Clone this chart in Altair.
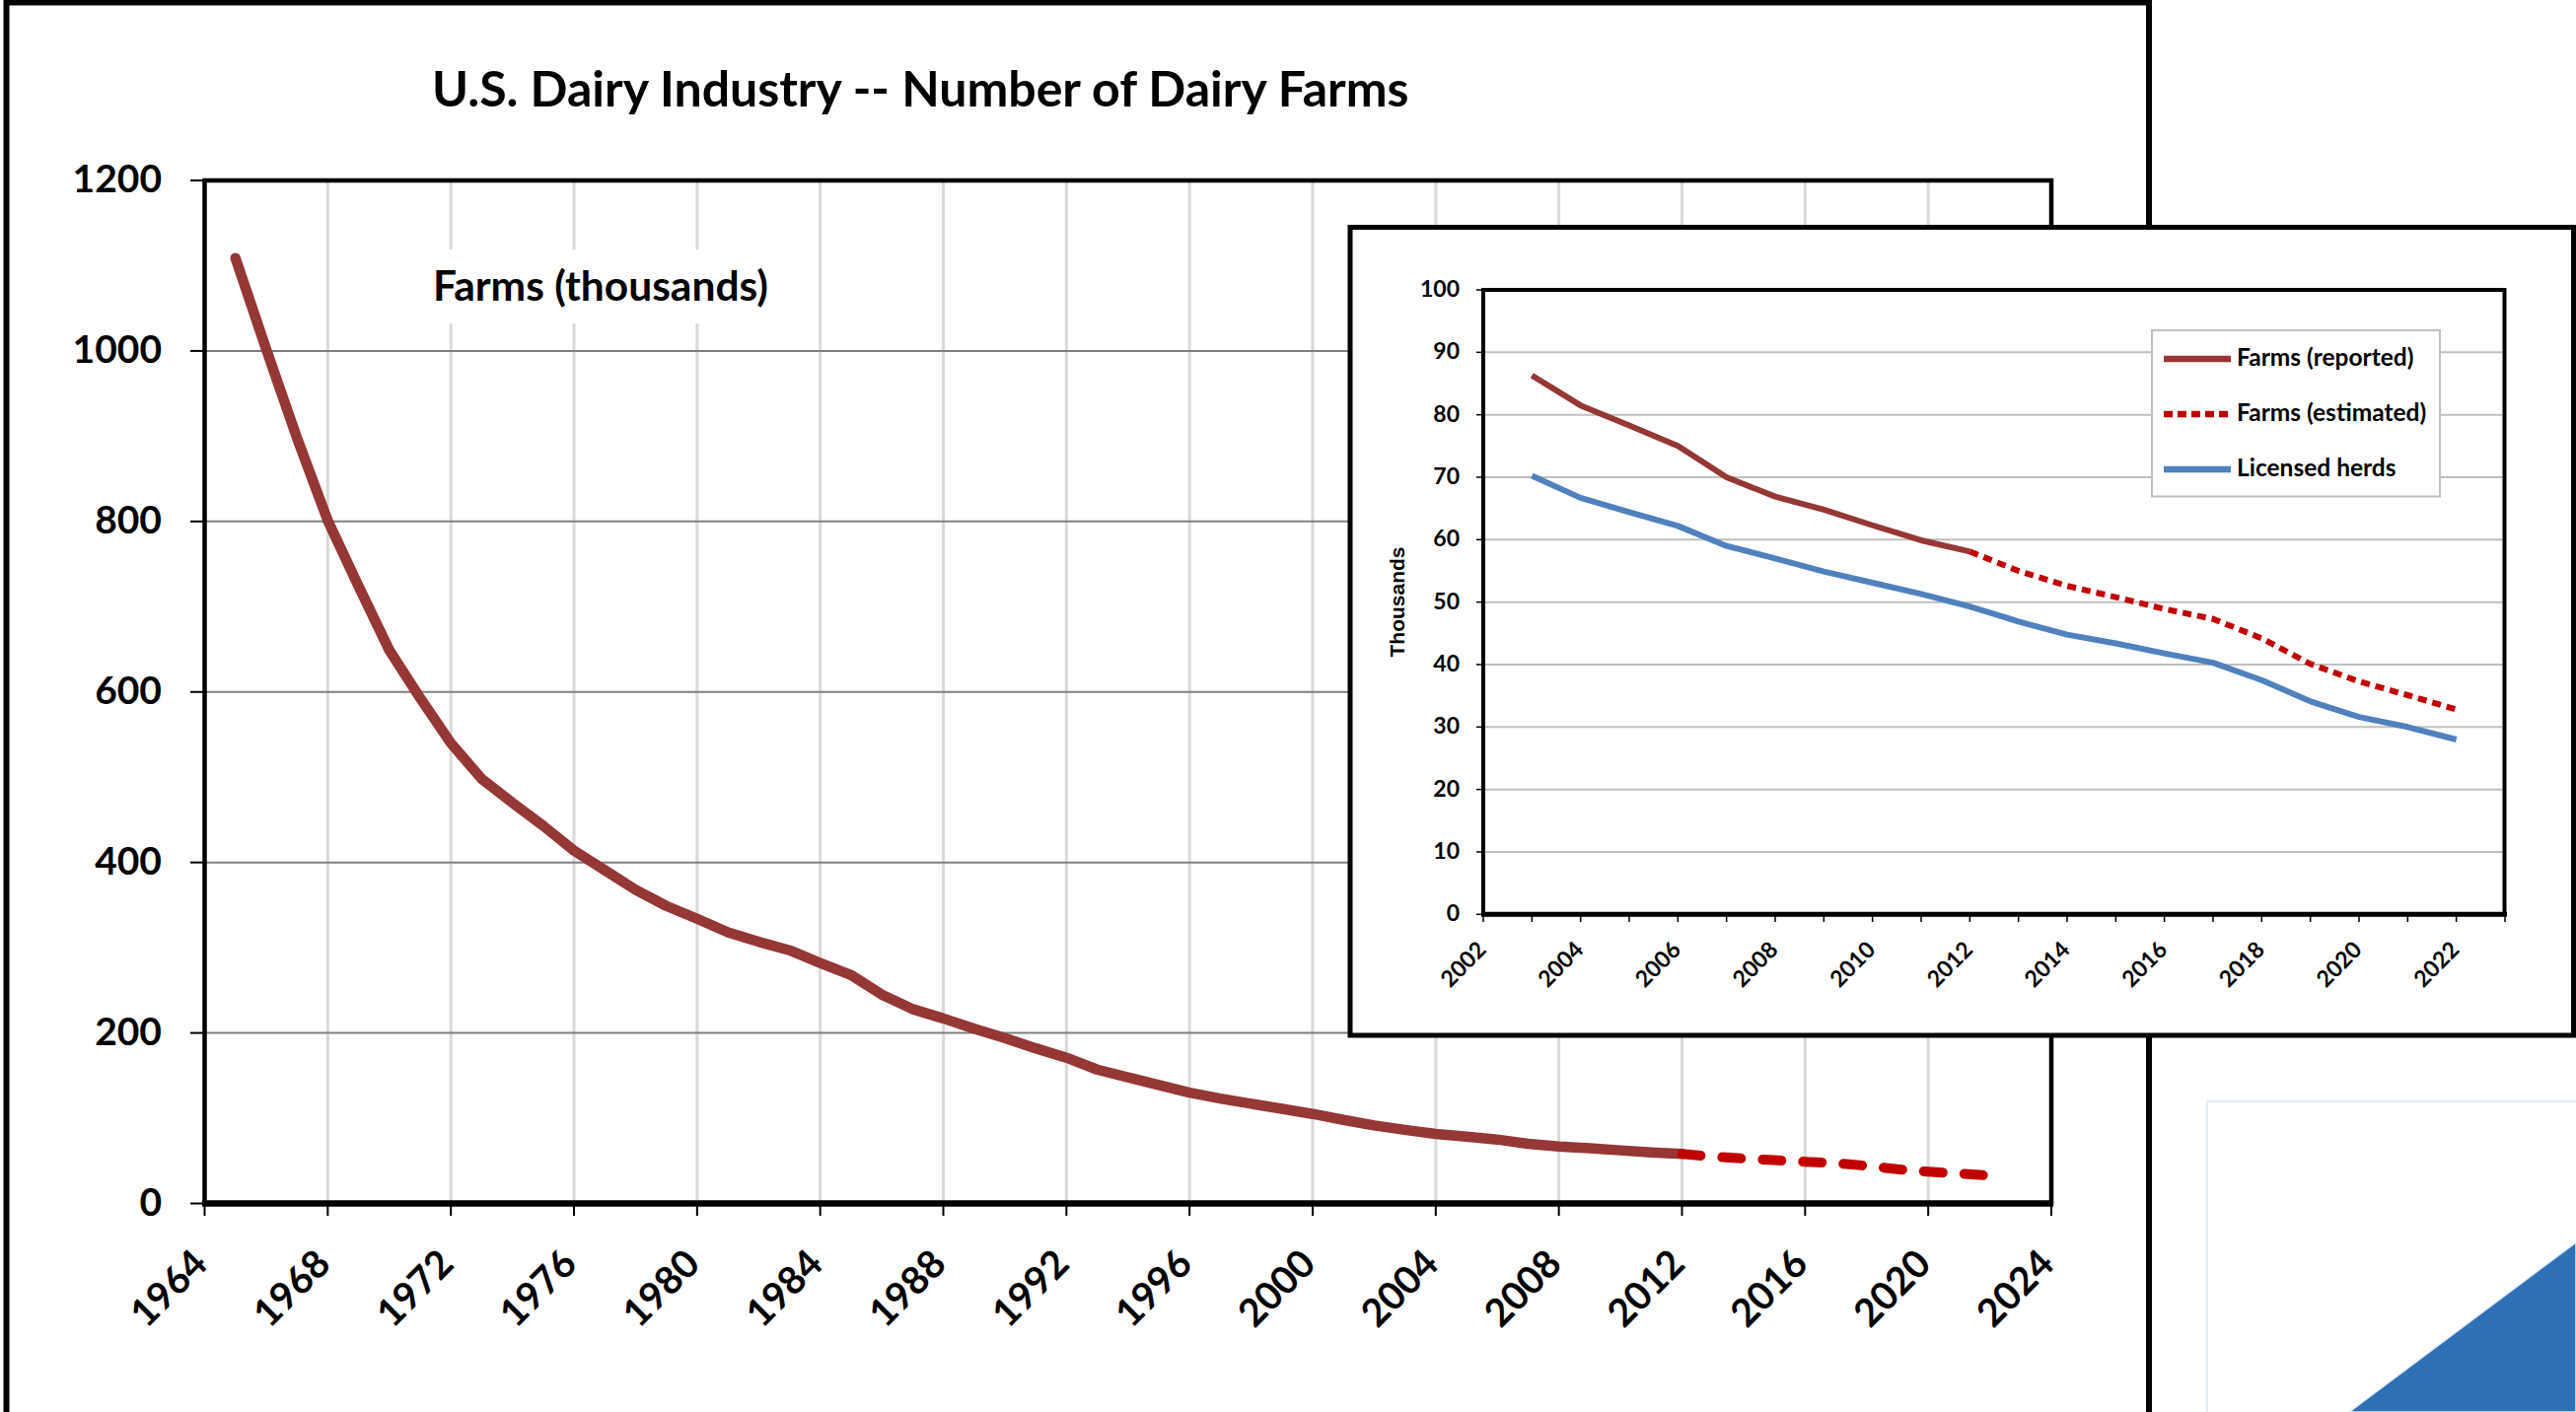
import altair as alt
import pandas as pd

# U.S. dairy farms, thousands (reported series)
farm_years = list(range(1965, 2013))
farm_counts = [1109, 1002, 898, 801, 724, 649, 593, 540, 498, 470,
               443, 414, 391, 368, 349, 334, 318, 307, 297, 282,
               268, 245, 228, 217, 205, 194, 182, 171, 157, 148,
               139, 130, 123, 117, 111, 105, 98, 91.5, 86.3, 81.5,
               78.3, 75.0, 70.0, 66.9, 64.8, 62.3, 59.9, 58.1]

# Estimated farm numbers after the last report (thousands)
est_years = list(range(2012, 2023))
est_counts = [58.1, 55.0, 52.6, 50.8, 48.9, 47.3, 44.2, 40.1, 37.3, 35.1, 32.8]

# Detail panel: reported farms and licensed herds (thousands)
rep_years = list(range(2003, 2013))
rep_counts = [86.3, 81.5, 78.3, 75.0, 70.0, 66.9, 64.8, 62.3, 59.9, 58.1]
herd_years = list(range(2003, 2023))
herd_counts = [70.25, 66.7, 64.4, 62.2, 59.0, 57.0, 54.9, 53.1, 51.3, 49.3,
               46.9, 44.8, 43.4, 41.8, 40.3, 37.5, 34.1, 31.6, 30.0, 28.0]

# Axis ticks and labels
main_y_ticks = [0, 200, 400, 600, 800, 1000, 1200]
main_x_ticks = list(range(1964, 2025, 4))
inset_y_ticks = list(range(0, 101, 10))
inset_x_ticks = list(range(2002, 2023, 2))
inset_year_ticks = list(range(2002, 2024))
legend_labels = ["Farms (reported)", "Farms (estimated)", "Licensed herds"]

TITLE = "U.S. Dairy Industry -- Number of Dairy Farms"
SUBTITLE = "Farms (thousands)"
INSET_YTITLE = "Thousands"

FONT = "Lato"
REPORTED = "#953735"
ESTIMATED = "#C00000"
HERDS = "#4F81BD"

# Pixel layout of the two plotting panels
MX = alt.Scale(domain=[1964, 2024], range=[207.5, 2080], nice=False, zero=False)
MY = alt.Scale(domain=[0, 1200], range=[1220.5, 183], nice=False, zero=False)
IX = alt.Scale(domain=[2002, 2023], range=[1504, 2540], nice=False, zero=False)
IY = alt.Scale(domain=[0, 100], range=[927.3, 294], nice=False, zero=False)

one = pd.DataFrame({"k": [0]})


def qx(field, scale):
    return alt.X(field, type="quantitative", scale=scale, axis=None)


def qy(field, scale):
    return alt.Y(field, type="quantitative", scale=scale, axis=None)


def box(x1, y1, x2, y2, **kw):
    return alt.Chart(one).mark_rect(**kw).encode(
        x=alt.value(x1), x2=alt.value(x2), y=alt.value(y1), y2=alt.value(y2))


def hrule(y, x1, x2, **kw):
    return alt.Chart(one).mark_rule(**kw).encode(
        x=alt.value(x1), x2=alt.value(x2), y=alt.value(y))


def label(text, x, y, **kw):
    return alt.Chart(one).mark_text(text=text, font=FONT, fontWeight="bold", **kw).encode(
        x=alt.value(x), y=alt.value(y))


layers = []

# ---------------- main chart ----------------
layers.append(box(6.5, 2.5, 2179, 1445, fillOpacity=0, stroke="black", strokeWidth=6))

vgrid_df = pd.DataFrame({"yr": main_x_ticks[1:-1]})
layers.append(alt.Chart(vgrid_df).mark_rule(color="#D9D9D9", strokeWidth=3).encode(
    x=qx("yr", MX), y=alt.value(183), y2=alt.value(1220)))

hgrid_df = pd.DataFrame({"v": main_y_ticks[1:-1]})
layers.append(alt.Chart(hgrid_df).mark_rule(color="#7F7F7F", strokeWidth=2).encode(
    y=qy("v", MY), x=alt.value(207), x2=alt.value(2080)))

layers.append(box(420, 253, 805, 328, fill="white", strokeWidth=0))
layers.append(label(SUBTITLE, 439, 305, fontSize=42.5, align="left", baseline="alphabetic"))

main_df = pd.DataFrame({"yr": farm_years, "n": farm_counts})
layers.append(alt.Chart(main_df).mark_line(
    color=REPORTED, strokeWidth=10.5, strokeJoin="round", strokeCap="round").encode(
    x=qx("yr", MX), y=qy("n", MY)))

est_df = pd.DataFrame({"yr": est_years, "n": est_counts})
layers.append(alt.Chart(est_df).mark_line(
    color=ESTIMATED, strokeWidth=10, strokeCap="round", strokeDash=[19, 22]).encode(
    x=qx("yr", MX), y=qy("n", MY)))

# plot frame and axes
layers.append(box(207.5, 183, 2080, 1220.5, fillOpacity=0, stroke="black", strokeWidth=4.5))
layers.append(hrule(1220.5, 205, 2082, color="black", strokeWidth=6.5))

ytick_df = pd.DataFrame({"v": main_y_ticks, "lab": [str(t) for t in main_y_ticks]})
layers.append(alt.Chart(ytick_df).mark_rule(color="black", strokeWidth=2).encode(
    y=qy("v", MY), x=alt.value(193), x2=alt.value(207)))
layers.append(alt.Chart(ytick_df).mark_text(
    font=FONT, fontWeight="bold", fontSize=39, align="right", baseline="middle").encode(
    y=qy("v", MY), x=alt.value(164), text="lab:N"))

xtick_df = pd.DataFrame({"yr": main_x_ticks, "lab": [str(t) for t in main_x_ticks]})
layers.append(alt.Chart(xtick_df).mark_rule(color="black", strokeWidth=2).encode(
    x=qx("yr", MX), y=alt.value(1220), y2=alt.value(1233)))
layers.append(alt.Chart(xtick_df).mark_text(
    font=FONT, fontWeight="bold", fontSize=39, align="right", baseline="middle",
    angle=315, dx=-5).encode(
    x=qx("yr", MX), y=alt.value(1272), text="lab:N"))

layers.append(label(TITLE, 438, 108, fontSize=50, align="left", baseline="alphabetic"))

# ---------------- detail panel ----------------
layers.append(box(1369, 230.5, 2609.5, 1050, fill="white", stroke="black", strokeWidth=5))

igrid_df = pd.DataFrame({"v": inset_y_ticks[1:-1]})
layers.append(alt.Chart(igrid_df).mark_rule(color="#BFBFBF", strokeWidth=2).encode(
    y=qy("v", IY), x=alt.value(1504), x2=alt.value(2540)))

rep_df = pd.DataFrame({"yr": rep_years, "n": rep_counts})
layers.append(alt.Chart(rep_df).mark_line(
    color=REPORTED, strokeWidth=6, strokeJoin="round").encode(
    x=qx("yr", IX), y=qy("n", IY)))
layers.append(alt.Chart(est_df).mark_line(
    color=ESTIMATED, strokeWidth=6, strokeDash=[9, 6]).encode(
    x=qx("yr", IX), y=qy("n", IY)))
herd_df = pd.DataFrame({"yr": herd_years, "n": herd_counts})
layers.append(alt.Chart(herd_df).mark_line(
    color=HERDS, strokeWidth=6, strokeJoin="round").encode(
    x=qx("yr", IX), y=qy("n", IY)))

layers.append(box(1504, 294, 2539.5, 927.3, fillOpacity=0, stroke="black", strokeWidth=4))
layers.append(hrule(927.3, 1502, 2542, color="black", strokeWidth=5))

iytick_df = pd.DataFrame({"v": inset_y_ticks, "lab": [str(t) for t in inset_y_ticks]})
layers.append(alt.Chart(iytick_df).mark_rule(color="black", strokeWidth=1.5).encode(
    y=qy("v", IY), x=alt.value(1497), x2=alt.value(1504)))
layers.append(alt.Chart(iytick_df).mark_text(
    font=FONT, fontWeight="bold", fontSize=23, align="right", baseline="middle").encode(
    y=qy("v", IY), x=alt.value(1480), text="lab:N"))

iyear_df = pd.DataFrame({"yr": inset_year_ticks})
layers.append(alt.Chart(iyear_df).mark_rule(color="black", strokeWidth=1.5).encode(
    x=qx("yr", IX), y=alt.value(927), y2=alt.value(935)))
ixtick_df = pd.DataFrame({"yr": inset_x_ticks, "lab": [str(t) for t in inset_x_ticks]})
layers.append(alt.Chart(ixtick_df).mark_text(
    font=FONT, fontWeight="bold", fontSize=23, align="right", baseline="middle",
    angle=315, dx=-1).encode(
    x=qx("yr", IX), y=alt.value(959), text="lab:N"))

layers.append(alt.Chart(one).mark_text(
    text=INSET_YTITLE, font="Liberation Sans", fontWeight="bold", fontSize=21,
    angle=270, align="center", baseline="middle").encode(
    x=alt.value(1418), y=alt.value(610.5)))

# legend
layers.append(box(2182, 335, 2474, 503.5, fill="white", stroke="#BFBFBF", strokeWidth=2))
legend_styles = [
    {"color": REPORTED},
    {"color": ESTIMATED, "strokeDash": [9, 5]},
    {"color": HERDS},
]
for i, (name, style) in enumerate(zip(legend_labels, legend_styles)):
    row_y = 364 + 56 * i
    layers.append(hrule(row_y, 2194, 2262, strokeWidth=6.5, **style))
    layers.append(label(name, 2268, row_y, fontSize=24.5, align="left", baseline="middle"))

# ---------------- page decoration ----------------
layers.append(box(2238, 1117, 2640, 1460, fillOpacity=0, stroke="#E3EDF8", strokeWidth=2))
layers.append(alt.Chart(one).mark_point(
    shape="M -1 0.748 L 1 -0.748 L 1 0.748 Z", size=52900, filled=True,
    fill="#2E70B6", opacity=1, stroke="#E3EDF8", strokeWidth=1.5).encode(
    x=alt.value(2497), y=alt.value(1346)))

chart = alt.layer(*layers).resolve_scale(
    x="independent", y="independent"
).properties(
    width=2612, height=1432,
    autosize=alt.AutoSizeParams(type="none"),
    padding=0,
).configure(background="white").configure_view(strokeWidth=0)

chart.save("out.html", embed_options={"renderer": "svg", "actions": False})
